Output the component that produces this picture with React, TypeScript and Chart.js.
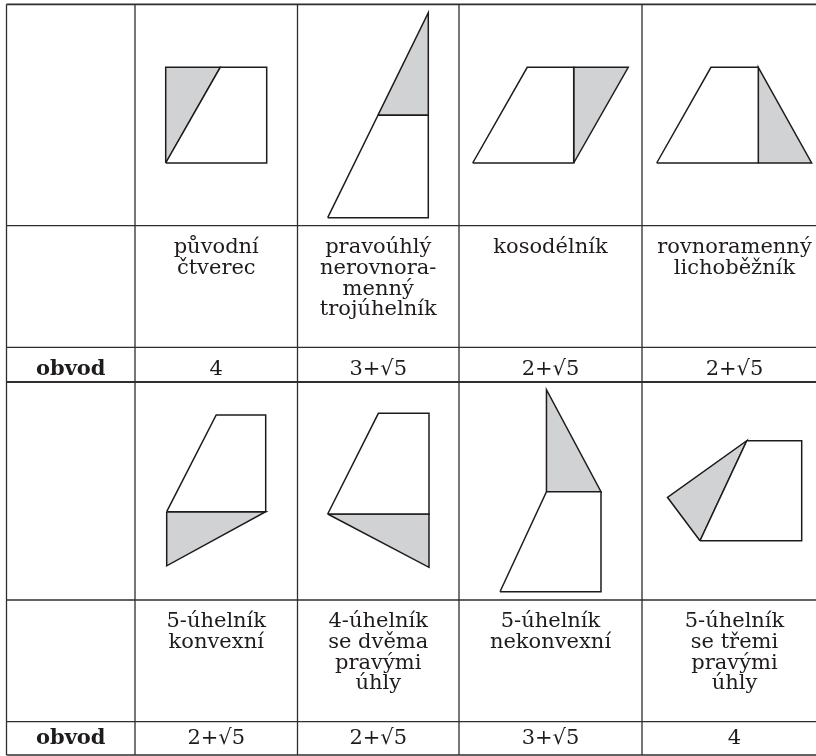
import React, { useEffect, useRef } from 'react';
import { Chart, registerables } from 'chart.js';

Chart.register(...registerables);

// ---------- data ----------
const ROW_LABEL = 'obvod';
const NAMES_TOP = ['původní\nčtverec', 'pravoúhlý\nnerovnora-\nmenný\ntrojúhelník', 'kosodélník', 'rovnoramenný\nlichoběžník'];
const NAMES_BOTTOM = ['5-úhelník\nkonvexní', '4-úhelník\nse dvěma\npravými\núhly', '5-úhelník\nnekonvexní', '5-úhelník\nse třemi\npravými\núhly'];
const PERIM_TOP = ['4', '3+√5', '2+√5', '2+√5'];
const PERIM_BOTTOM = ['2+√5', '2+√5', '3+√5', '4'];

// geometry of each figure, in units of the square side (x right, y up)
const WHITE_PARTS: number[][][] = [
  [[0, 0], [1, 0], [1, 1], [0.54, 1]],
  [[0, 0], [1, 0], [1, 1], [0.5, 1]],
  [[0, 0], [1, 0], [1, 1], [0.54, 1]],
  [[0, 0], [1, 0], [1, 1], [0.534, 1]],
  [[0, 0], [1, 0], [1, 1], [0.5, 1]],
  [[0, 0], [1, 0], [1, 1], [0.5, 1]],
  [[0, 0], [1, 0], [1, 1], [0.46, 1]],
  [[0, 0], [1, 0], [1, 1], [0.46, 1]],
];
const GREY_PARTS: number[][][] = [
  [[0, 0], [0.54, 1], [0, 1]],
  [[0.5, 1], [1, 1], [1, 2]],
  [[1, 0], [1.54, 1], [1, 1]],
  [[1, 0], [1.525, 0], [1, 1]],
  [[0, 0], [1, 0], [0, -0.56]],
  [[0, 0], [1, 0], [1, -0.53]],
  [[0.46, 1], [1, 1], [0.46, 2.02]],
  [[0, 0], [0.46, 1], [-0.32, 0.434]],
];

// ---------- layout ----------
const W = 816;
const H = 756;
const COL_EDGES = [6.5, 135, 297.5, 459, 642, 827];
const ROW_EDGES = [4.3, 225.7, 347.3, 382, 600, 721.7, 755];
const ROW_WIDTHS = [1.8, 1.3, 1.3, 2.2, 1.3, 1.3, 1.4];
const SHAPE_ANCHORS = [[165.7, 163], [327.7, 217.7], [472.7, 163], [656.7, 163], [166.7, 511.7], [327.7, 514], [500, 591.7], [700, 540.7]];
const SHAPE_UNITS = [[101, 95.7], [100.6, 102.5], [101, 95.7], [101.6, 95.7], [99, 96.7], [101.3, 100.7], [101, 100], [101.7, 100]];
const NAME_BASELINES = [253, 627];
const PERIM_BASELINES = [375, 743.5];
const LINE_HEIGHT = 20.8;
const FONT_FAMILY = '"DejaVu Serif", serif';
const FONT_SIZE = 21;

const INK = '#1f1b1c';
const GRID = '#2e2e2e';
const GREY = '#d1d2d4';

function polygonData(part: number[][], i: number) {
  const [ax, ay] = SHAPE_ANCHORS[i];
  const [ux, uy] = SHAPE_UNITS[i];
  const pts = part.map(([u, v]) => ({ x: ax + u * ux, y: ay - v * uy }));
  pts.push({ ...pts[0] });
  return pts;
}

const textPlugin = {
  id: 'cellText',
  afterDatasetsDraw(chart: any) {
    const { ctx, scales } = chart;
    const xs = scales.x;
    const ys = scales.y;
    ctx.save();
    ctx.fillStyle = INK;
    ctx.textAlign = 'center';
    ctx.textBaseline = 'alphabetic';
    const colCenter = (c: number) => xs.getPixelForValue((COL_EDGES[c] + COL_EDGES[c + 1]) / 2);
    const blocks = [
      { names: NAMES_TOP, perim: PERIM_TOP, nb: NAME_BASELINES[0], pb: PERIM_BASELINES[0] },
      { names: NAMES_BOTTOM, perim: PERIM_BOTTOM, nb: NAME_BASELINES[1], pb: PERIM_BASELINES[1] },
    ];
    blocks.forEach((b) => {
      ctx.font = `${FONT_SIZE}px ${FONT_FAMILY}`;
      b.names.forEach((name, i) => {
        name.split('\n').forEach((line, k) => {
          ctx.fillText(line, colCenter(i + 1), ys.getPixelForValue(b.nb + k * LINE_HEIGHT));
        });
      });
      b.perim.forEach((p, i) => {
        ctx.fillText(p, colCenter(i + 1), ys.getPixelForValue(b.pb));
      });
      ctx.font = `bold ${FONT_SIZE}px ${FONT_FAMILY}`;
      ctx.fillText(ROW_LABEL, colCenter(0), ys.getPixelForValue(b.pb));
    });
    ctx.restore();
  },
};

export default function App() {
  const ref = useRef<HTMLCanvasElement | null>(null);

  useEffect(() => {
    if (!ref.current) return;
    const datasets: any[] = [];
    const base = {
      showLine: true,
      pointRadius: 0,
      pointHoverRadius: 0,
      tension: 0,
      borderJoinStyle: 'miter',
      borderCapStyle: 'butt',
    };
    // table rules
    ROW_EDGES.forEach((y, i) => {
      datasets.push({
        ...base,
        data: [{ x: COL_EDGES[0], y }, { x: W, y }],
        borderColor: GRID,
        borderWidth: ROW_WIDTHS[i],
        fill: false,
      });
    });
    COL_EDGES.slice(0, 5).forEach((x) => {
      datasets.push({
        ...base,
        data: [{ x, y: ROW_EDGES[0] }, { x, y: ROW_EDGES[ROW_EDGES.length - 1] }],
        borderColor: GRID,
        borderWidth: 1.3,
        fill: false,
      });
    });
    // figures
    WHITE_PARTS.forEach((part, i) => {
      datasets.push({
        ...base,
        data: polygonData(part, i),
        borderColor: INK,
        borderWidth: 1.5,
        backgroundColor: '#ffffff',
        fill: 'shape',
      });
      datasets.push({
        ...base,
        data: polygonData(GREY_PARTS[i], i),
        borderColor: INK,
        borderWidth: 1.5,
        backgroundColor: GREY,
        fill: 'shape',
      });
    });

    const chart = new Chart(ref.current, {
      type: 'line',
      data: { datasets },
      options: {
        animation: false,
        responsive: false,
        maintainAspectRatio: false,
        devicePixelRatio: 1,
        layout: { padding: 0 },
        events: [],
        plugins: { legend: { display: false }, tooltip: { enabled: false }, title: { display: false } },
        scales: {
          x: { type: 'linear', min: 0, max: W, display: false },
          y: { type: 'linear', min: 0, max: H, reverse: true, display: false },
        },
      } as any,
      plugins: [textPlugin],
    });
    return () => chart.destroy();
  }, []);

  return (
    <div style={{ position: 'absolute', left: 0, top: 0, width: W, height: H, background: '#ffffff' }}>
      <canvas ref={ref} width={W} height={H} style={{ display: 'block', width: W, height: H }} />
    </div>
  );
}
